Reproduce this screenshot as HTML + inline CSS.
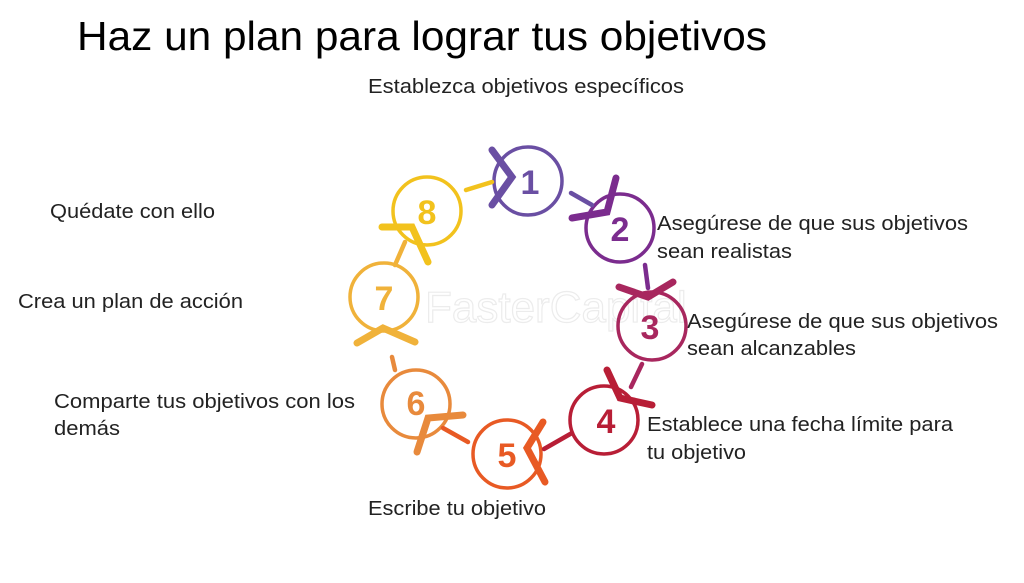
<!DOCTYPE html>
<html><head><meta charset="utf-8"><style>
body{margin:0;width:1024px;height:583px;background:#fff;overflow:hidden;font-family:"Liberation Sans",sans-serif}
svg{position:absolute;left:0;top:0}
</style></head><body>
<svg width="1024" height="583" viewBox="0 0 1024 583" font-family="Liberation Sans, sans-serif">
<text x="77" y="50" font-size="41" fill="#000" textLength="690" lengthAdjust="spacingAndGlyphs">Haz un plan para lograr tus objetivos</text>
<g font-size="20" fill="#222" lengthAdjust="spacingAndGlyphs">
<text x="368" y="93" textLength="316" lengthAdjust="spacingAndGlyphs">Establezca objetivos específicos</text>
<text x="50" y="218" textLength="165" lengthAdjust="spacingAndGlyphs">Quédate con ello</text>
<text x="18" y="308" textLength="225" lengthAdjust="spacingAndGlyphs">Crea un plan de acción</text>
<text x="54" y="408" textLength="301" lengthAdjust="spacingAndGlyphs">Comparte tus objetivos con los</text>
<text x="54" y="435" textLength="66" lengthAdjust="spacingAndGlyphs">demás</text>
<text x="368" y="515" textLength="178" lengthAdjust="spacingAndGlyphs">Escribe tu objetivo</text>
<text x="657" y="230" textLength="311" lengthAdjust="spacingAndGlyphs">Asegúrese de que sus objetivos</text>
<text x="657" y="258" textLength="135" lengthAdjust="spacingAndGlyphs">sean realistas</text>
<text x="687" y="328" textLength="311" lengthAdjust="spacingAndGlyphs">Asegúrese de que sus objetivos</text>
<text x="687" y="355" textLength="169" lengthAdjust="spacingAndGlyphs">sean alcanzables</text>
<text x="647" y="431" textLength="306" lengthAdjust="spacingAndGlyphs">Establece una fecha límite para</text>
<text x="647" y="459" textLength="99" lengthAdjust="spacingAndGlyphs">tu objetivo</text>
</g>
<text x="425" y="322" font-size="44" fill="none" stroke="#ececec" stroke-width="1.2">FasterCapital</text>
<g fill="none" stroke-width="3.5">
<circle cx="528" cy="181" r="34" stroke="#6a4fa3"/>
<circle cx="620" cy="228" r="34" stroke="#7b2c8e"/>
<circle cx="652" cy="326" r="34" stroke="#a8275e"/>
<circle cx="604" cy="420" r="34" stroke="#b81e36"/>
<circle cx="507" cy="454" r="34" stroke="#e85a24"/>
<circle cx="416" cy="404" r="34" stroke="#e88a3c"/>
<circle cx="384" cy="297" r="34" stroke="#f0b23a"/>
<circle cx="427" cy="211" r="34" stroke="#f2c21d"/>
</g>
<g fill="none" stroke-width="7" stroke-linecap="round" stroke-linejoin="miter">
<polyline points="492,150 512,177 492,205" stroke="#6a4fa3"/>
<polyline points="616,178 607,212 572,218" stroke="#7b2c8e"/>
<polyline points="619,287 648,297 673,282" stroke="#a8275e"/>
<polyline points="607,370 620,398 652,405" stroke="#b81e36"/>
<polyline points="543,422 527,448 545,482" stroke="#e85a24"/>
<polyline points="463,415 428,418 417,452" stroke="#e88a3c"/>
<polyline points="357,343 383,328 415,342" stroke="#f0b23a"/>
<polyline points="382,227 412,227 428,262" stroke="#f2c21d"/>
</g>
<g stroke-width="4.5" stroke-linecap="round">
<line x1="571" y1="193" x2="592" y2="205" stroke="#6a4fa3"/>
<line x1="645" y1="265" x2="648" y2="288" stroke="#7b2c8e"/>
<line x1="642" y1="364" x2="631" y2="387" stroke="#a8275e"/>
<line x1="572" y1="433" x2="544" y2="449" stroke="#b81e36"/>
<line x1="468" y1="442" x2="443" y2="428" stroke="#e85a24"/>
<line x1="395" y1="370" x2="392" y2="357" stroke="#e88a3c"/>
<line x1="395" y1="265" x2="405" y2="242" stroke="#f0b23a"/>
<line x1="466" y1="190" x2="492" y2="182" stroke="#f2c21d"/>
</g>
<g font-size="34" font-weight="bold" text-anchor="middle">
<text x="530" y="194" fill="#6a4fa3">1</text>
<text x="620" y="241" fill="#7b2c8e">2</text>
<text x="650" y="339" fill="#a8275e">3</text>
<text x="606" y="433" fill="#b81e36">4</text>
<text x="507" y="467" fill="#e85a24">5</text>
<text x="416" y="415" fill="#e88a3c">6</text>
<text x="384" y="310" fill="#f0b23a">7</text>
<text x="427" y="224" fill="#f2c21d">8</text>
</g>
</svg>
</body></html>
